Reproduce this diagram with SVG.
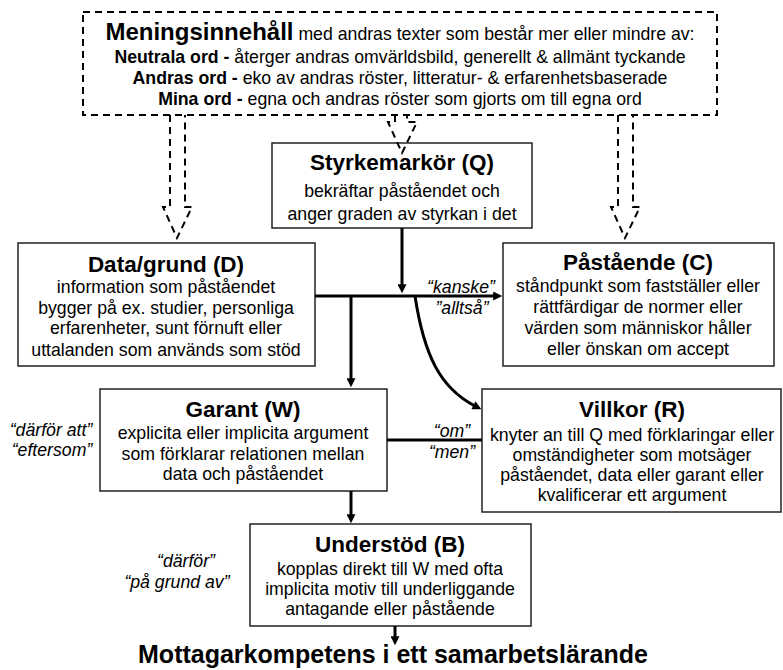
<svg xmlns="http://www.w3.org/2000/svg" width="783" height="670" viewBox="0 0 783 670">
<style>
text{font-family:"Liberation Sans",Arial,sans-serif;fill:#000;text-anchor:middle}
.t{font-size:22.5px;font-weight:bold}
.b{font-size:17.7px}
.bb{font-weight:bold}
.big{font-size:24px;font-weight:bold}
.lab{font-size:17.7px;font-style:italic}
.box{fill:#fff;stroke:#222;stroke-width:1.5}
.dash{fill:none;stroke:#000;stroke-width:2;stroke-dasharray:7 5}
.con{fill:none;stroke:#000;stroke-width:3}
.arr{marker-end:url(#ah)}
</style>
<defs>
<marker id="ah" viewBox="0 0 10 10" refX="2" refY="5" markerWidth="10" markerHeight="9" markerUnits="userSpaceOnUse" orient="auto">
<path d="M0,0 L10,5 L0,10 z" fill="#000"/>
</marker>
</defs>
<rect width="783" height="670" fill="#fff"/>

<g id="mening">
<rect x="83" y="12" width="634" height="103" fill="#fff" class="dash"/>
<text x="400" y="40" class="b"><tspan class="big">Meningsinnehåll</tspan> med andras texter som består mer eller mindre av:</text>
<text x="400" y="63" class="b"><tspan class="bb">Neutrala ord -</tspan> återger andras omvärldsbild, generellt &amp; allmänt tyckande</text>
<text x="400" y="84" class="b"><tspan class="bb">Andras ord -</tspan> eko av andras röster, litteratur- &amp; erfarenhetsbaserade</text>
<text x="400" y="105" class="b"><tspan class="bb">Mina ord -</tspan> egna och andras röster som gjorts om till egna ord</text>
</g>

<g id="q">
<rect x="272" y="143" width="260" height="85" class="box"/>
<text x="402" y="170" class="t">Styrkemarkör (Q)</text>
<text x="402" y="197" class="b">bekräftar påståendet och</text>
<text x="402" y="220" class="b">anger graden av styrkan i det</text>
</g>

<g id="d">
<rect x="18" y="243" width="297" height="123" class="box"/>
<text x="166" y="272" class="t">Data/grund (D)</text>
<text x="166" y="293" class="b">information som påståendet</text>
<text x="166" y="314" class="b">bygger på ex. studier, personliga</text>
<text x="166" y="334" class="b">erfarenheter, sunt förnuft eller</text>
<text x="166" y="356" class="b">uttalanden som används som stöd</text>
</g>

<g id="c">
<rect x="503" y="243" width="271" height="123" class="box"/>
<text x="638" y="270" class="t">Påstående (C)</text>
<text x="638" y="292" class="b">ståndpunkt som fastställer eller</text>
<text x="638" y="313" class="b">rättfärdigar de normer eller</text>
<text x="638" y="334" class="b">värden som människor håller</text>
<text x="638" y="355" class="b">eller önskan om accept</text>
</g>

<g id="w">
<rect x="100" y="389" width="287" height="102" class="box"/>
<text x="243" y="417" class="t">Garant (W)</text>
<text x="243" y="439" class="b">explicita eller implicita argument</text>
<text x="243" y="460" class="b">som förklarar relationen mellan</text>
<text x="243" y="480" class="b">data och påståendet</text>
</g>

<g id="r">
<rect x="482" y="389" width="299" height="123" class="box"/>
<text x="632" y="417" class="t">Villkor (R)</text>
<text x="632" y="441" class="b">knyter an till Q med förklaringar eller</text>
<text x="632" y="461" class="b">omständigheter som motsäger</text>
<text x="632" y="481" class="b">påståendet, data eller garant eller</text>
<text x="632" y="501" class="b">kvalificerar ett argument</text>
</g>

<g id="b">
<rect x="250" y="524" width="281" height="102" class="box"/>
<text x="390" y="552" class="t">Understöd (B)</text>
<text x="390" y="575" class="b">kopplas direkt till W med ofta</text>
<text x="390" y="595" class="b">implicita motiv till underliggande</text>
<text x="390" y="615" class="b">antagande eller påstående</text>
</g>

<g id="mottagar">
<text x="393" y="663" style="font-size:25px;font-weight:bold">Mottagarkompetens i ett samarbetslärande</text>
</g>

<g id="connectors">
<path class="dash" d="M170,115 L170,207 L163,207 L177,238 L192,207 L185,207 L185,115"/>
<path class="dash" d="M395,115 L395,122 L388,122 L402,153 L417,122 L407,122 L407,115"/>
<path class="dash" d="M618,115 L618,207 L611,207 L625,238 L640,207 L633,207 L633,115"/>
<path class="con arr" d="M402,228 L402,286"/>
<path class="con arr" d="M315,296 L495,296"/>
<path class="con arr" d="M351,296 L351,380"/>
<path class="con arr" d="M415,296 C424,355 440,388 475,406"/>
<path class="con" d="M387,440 L482,440"/>
<path class="con arr" d="M351,491 L351,516"/>
<path class="con arr" d="M395,626 L395,638"/>
</g>

<g id="labels">
<text x="461" y="293" class="lab">“kanske”</text>
<text x="462" y="314" class="lab">”alltså”</text>
<text x="51" y="436" class="lab">“därför att”</text>
<text x="52" y="456" class="lab">“eftersom”</text>
<text x="452" y="437" class="lab">“om”</text>
<text x="452" y="458" class="lab">“men”</text>
<text x="186" y="567" class="lab">“därför”</text>
<text x="177" y="588" class="lab">“på grund av”</text>
</g>
</svg>
